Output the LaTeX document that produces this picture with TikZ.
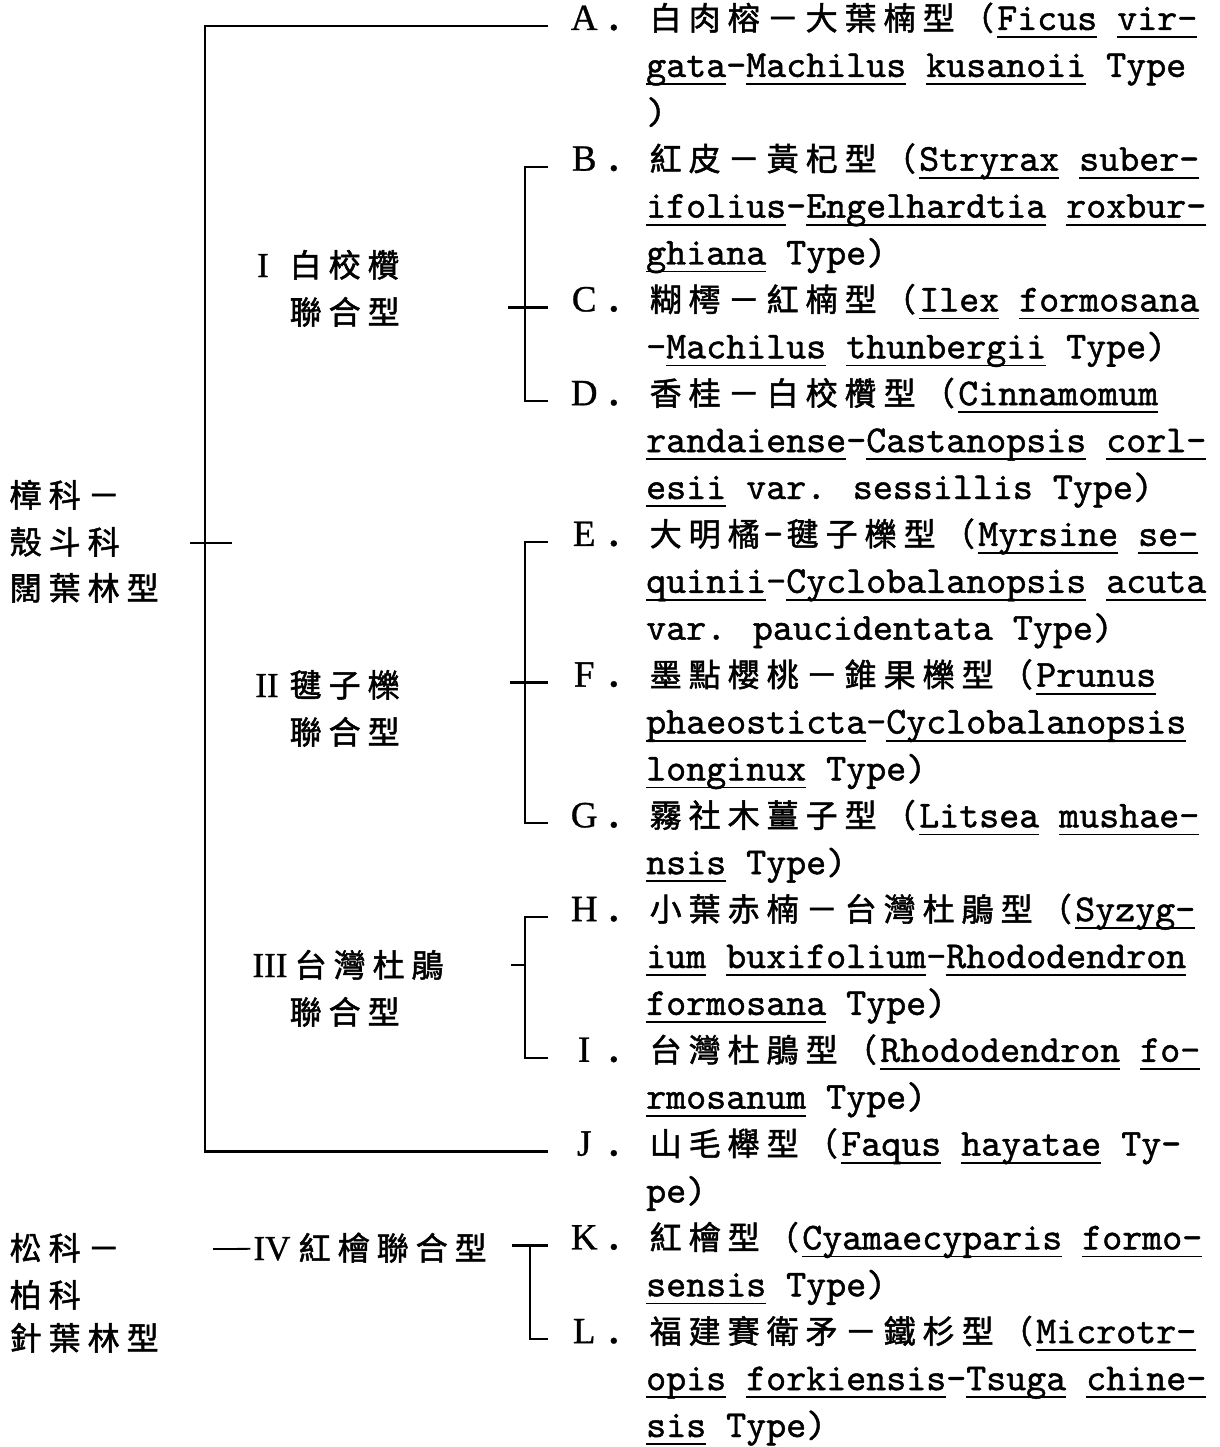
\documentclass[tikz,border=0pt]{standalone}
\usepackage{fontspec}
\newfontfamily\cjkf{Noto Sans CJK TC}[FakeBold=1.6]
\newfontfamily\monof{lmmono10-regular.otf}[FakeBold=1.2]
\newfontfamily\serf{Liberation Serif}[FakeBold=0.8]
\newlength\cjw \setlength\cjw{39pt}
\def\cjloop#1{\ifx\relax#1\else\makebox[\cjw][c]{#1}\expandafter\cjloop\fi}
\newcommand\cjs[1]{{\cjkf\fontsize{32}{32}\selectfont\cjloop#1\relax}}
\newcommand\udl[1]{\setbox0=\hbox{#1}\rlap{\rule[-8pt]{\wd0}{1.8pt}}\box0\relax}
\newcommand\lab[1]{\makebox[30pt][c]{#1}\hspace{10pt}\textbf{.}}
\newcommand\msz{\fontsize{38.1}{40}\selectfont}
\tikzset{
  conn/.style={line width=2.3pt},
  txt/.style={anchor=base west, inner sep=0pt, font=\monof\msz},
  lett/.style={anchor=base west, inner sep=0pt, font=\serf\fontsize{37}{37}\selectfont, text height=20pt, text depth=12pt},
  cj/.style={anchor=base west, inner sep=0pt},
  rom/.style={anchor=base, inner sep=0pt, font=\serf\fontsize{35}{35}\selectfont},
}
\begin{document}
\begin{tikzpicture}[x=1pt,y=-1pt]
\fill[white] (0,0) rectangle (1219,1447);
\useasboundingbox (0,0) rectangle (1219,1447);

% left family labels
\node[cj] (f1a) at (6,507) {\cjs{樟科－}};
\node[cj] (f1b) at (6,554) {\cjs{殼斗科}};
\node[cj] (f1c) at (6,600) {\cjs{闊葉林型}};
\node[cj] (f2a) at (6,1260) {\cjs{松科－}};
\node[cj] (f2b) at (6,1307) {\cjs{柏科}};
\node[cj] (f2c) at (6,1350) {\cjs{針葉林型}};

% group labels
\node[rom] (r1) at (263,277) {I};
\node[cj] (g1a) at (286,277) {\cjs{白校欑}};
\node[cj] (g1b) at (286,324) {\cjs{聯合型}};
\node[rom] (r2) at (267,697) {II};
\node[cj] (g2a) at (286,697) {\cjs{毽子櫟}};
\node[cj] (g2b) at (286,744) {\cjs{聯合型}};
\node[rom] (r3) at (270,977) {III};
\node[cj] (g3a) at (291,977) {\cjs{台灣杜鵑}};
\node[cj] (g3b) at (286,1024) {\cjs{聯合型}};
\node[rom] (r4) at (272,1260) {IV};
\node[cj] (g4) at (295,1260) {\cjs{紅檜聯合型}};

% letter labels
\node[lett] (lA) at (569,30) {\lab{A}};
\node[lett] (lB) at (569,170.7) {\lab{B}};
\node[lett] (lC) at (569,311.4) {\lab{C}};
\node[lett] (lD) at (569,405.2) {\lab{D}};
\node[lett] (lE) at (569,545.9) {\lab{E}};
\node[lett] (lF) at (569,686.6) {\lab{F}};
\node[lett] (lG) at (569,827.3) {\lab{G}};
\node[lett] (lH) at (569,921.1) {\lab{H}};
\node[lett] (lI) at (569,1061.8) {\lab{I}};
\node[lett] (lJ) at (569,1155.6) {\lab{J}};
\node[lett] (lK) at (569,1249.4) {\lab{K}};
\node[lett] (lL) at (569,1343.2) {\lab{L}};

% entry texts
\node[txt] (tA1) at (646,30) {\cjs{白肉榕－大葉楠型（}\udl{Ficus} \udl{vir-}};
\node[txt] (tA2) at (646,76.9) {\udl{gata}-\udl{Machilus} \udl{kusanoii} Type};
\node[txt] (tA3) at (646,123.8) {)};
\node[txt] (tB1) at (646,170.7) {\cjs{紅皮－黃杞型（}\udl{Stryrax} \udl{suber-}};
\node[txt] (tB2) at (646,217.6) {\udl{ifolius}-\udl{Engelhardtia} \udl{roxbur-}};
\node[txt] (tB3) at (646,264.5) {\udl{ghiana} Type)};
\node[txt] (tC1) at (646,311.4) {\cjs{糊樗－紅楠型（}\udl{Ilex} \udl{formosana}};
\node[txt] (tC2) at (646,358.3) {-\udl{Machilus} \udl{thunbergii} Type)};
\node[txt] (tD1) at (646,405.2) {\cjs{香桂－白校欑型（}\udl{Cinnamomum}};
\node[txt] (tD2) at (646,452.1) {\udl{randaiense}-\udl{Castanopsis} \udl{corl-}};
\node[txt] (tD3) at (646,499) {\udl{esii} var. sessillis Type)};
\node[txt] (tE1) at (646,545.9) {\cjs{大明橘}-\cjs{毽子櫟型（}\udl{Myrsine} \udl{se-}};
\node[txt] (tE2) at (646,592.8) {\udl{quinii}-\udl{Cyclobalanopsis} \udl{acuta}};
\node[txt] (tE3) at (646,639.7) {var. paucidentata Type)};
\node[txt] (tF1) at (646,686.6) {\cjs{墨點櫻桃－錐果櫟型（}\udl{Prunus}};
\node[txt] (tF2) at (646,733.5) {\udl{phaeosticta}-\udl{Cyclobalanopsis}};
\node[txt] (tF3) at (646,780.4) {\udl{longinux} Type)};
\node[txt] (tG1) at (646,827.3) {\cjs{霧社木薑子型（}\udl{Litsea} \udl{mushae-}};
\node[txt] (tG2) at (646,874.2) {\udl{nsis} Type)};
\node[txt] (tH1) at (646,921.1) {\cjs{小葉赤楠－台灣杜鵑型（}\udl{Syzyg-}};
\node[txt] (tH2) at (646,968) {\udl{ium} \udl{buxifolium}-\udl{Rhododendron}};
\node[txt] (tH3) at (646,1014.9) {\udl{formosana} Type)};
\node[txt] (tI1) at (646,1061.8) {\cjs{台灣杜鵑型（}\udl{Rhododendron} \udl{fo-}};
\node[txt] (tI2) at (646,1108.7) {\udl{rmosanum} Type)};
\node[txt] (tJ1) at (646,1155.6) {\cjs{山毛櫸型（}\udl{Faqus} \udl{hayatae} Ty-};
\node[txt] (tJ2) at (646,1202.5) {pe)};
\node[txt] (tK1) at (646,1249.4) {\cjs{紅檜型（}\udl{Cyamaecyparis} \udl{formo-}};
\node[txt] (tK2) at (646,1296.3) {\udl{sensis} Type)};
\node[txt] (tL1) at (646,1343.2) {\cjs{福建賽衛矛－鐵杉型（}\udl{Microtr-}};
\node[txt] (tL2) at (646,1390.1) {\udl{opis} \udl{forkiensis}-\udl{Tsuga} \udl{chine-}};
\node[txt] (tL3) at (646,1437) {\udl{sis} Type)};

% connectors
\draw[conn, shorten <=21pt, shorten >=21pt] (lA.west) -- ++(-364,0) |- (lJ.west);
\coordinate (t0) at (190,543);
\draw[conn] (t0) -- ++(42,0);
\draw[conn, shorten <=21pt, shorten >=21pt] (lB.west) -- ++(-44,0) |- (lD.west);
\draw[conn, shorten <=21pt] (lC.west) -- ++(-61,0);
\draw[conn, shorten <=21pt, shorten >=21pt] (lE.west) -- ++(-44,0) |- (lG.west);
\draw[conn, shorten <=21pt] (lF.west) -- ++(-59,0);
\draw[conn, shorten <=21pt, shorten >=21pt] (lH.west) -- ++(-44,0) |- (lI.west);
\coordinate (s3) at (511,965);
\draw[conn] (s3) -- ++(14,0);
\draw[conn, shorten <=21pt] (lK.west) -- ++(-57,0);
\draw[conn, shorten >=21pt] (lK.west) ++(-39,0) |- (lL.west);
\coordinate (d4) at (213,1249);
\draw[conn, line width=1.8pt, shorten >=3pt] (d4) -- (r4.west);
\end{tikzpicture}
\end{document}
